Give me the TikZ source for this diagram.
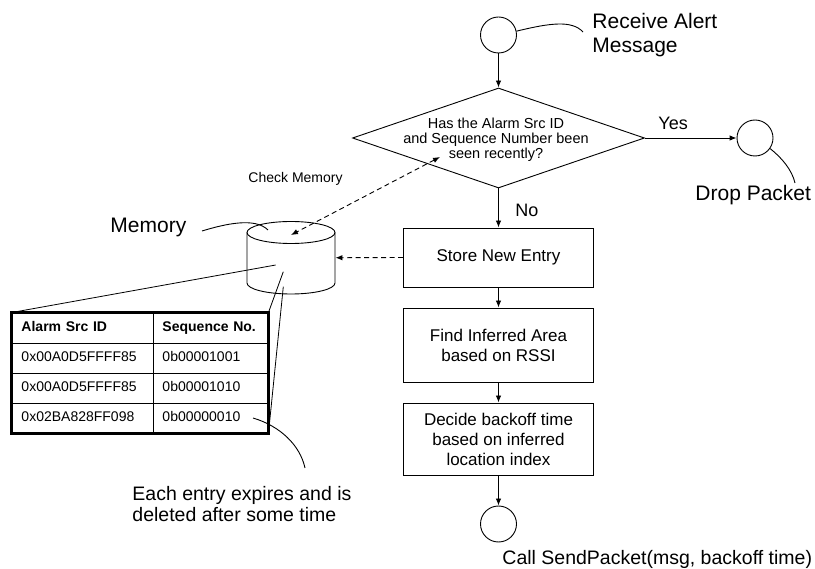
\documentclass[tikz,border=0pt]{standalone}
\usepackage{fontspec}
\setmainfont{Liberation Sans}
\usetikzlibrary{shapes.geometric,arrows.meta,matrix}

\begin{document}
\begin{tikzpicture}[x=1pt,y=-1pt,
  line width=0.9pt,
  flow/.style={-{Latex[length=7pt,width=5.5pt]}},
  dashpat/.style={dash pattern=on 5pt off 3.5pt},
  terminal/.style={circle, draw, minimum size=36pt, inner sep=0pt},
  procbox/.style={rectangle, draw, minimum width=190pt, align=center,
    font=\fontsize{17}{20}\selectfont, inner sep=0pt},
  biglabel/.style={font=\fontsize{21}{24}\selectfont, inner sep=0pt, align=left},
  midlabel/.style={font=\fontsize{19.5}{21}\selectfont, inner sep=0pt, align=left},
  branchlabel/.style={font=\fontsize{18}{20}\selectfont, inner sep=0pt},
  smalllabel/.style={font=\fontsize{14}{15}\selectfont, inner sep=0pt},
  leader/.style={line width=0.8pt}
]
\useasboundingbox (0,0) rectangle (815,569);

% ---------- main flow ----------
\node[terminal] (start) at (498.5,35) {};
\node[diamond, draw, minimum width=292pt, minimum height=100pt, inner sep=0pt]
  (dec) at (498.5,138) {};
\node[font=\fontsize{14.5}{15}\selectfont, align=center, inner sep=0pt, anchor=north]
  (dectext) at (496,117.5) {Has the Alarm Src ID\\and Sequence Number been\\seen recently?};
\node[terminal] (drop) at (755,138) {};
\node[procbox, minimum height=59pt] (store) at (498.5,257.5) {Store New Entry};
\node[procbox, minimum height=74pt] (find) at (498.5,345) {Find Inferred Area\\based on RSSI};
\node[procbox, minimum height=72pt] (decide) at (498.5,439)
  {Decide backoff time\\based on inferred\\location index};
\node[terminal] (send) at (498.5,524) {};

\draw[flow] (start) -- (dec.north);
\draw[flow] (dec.east) -- (drop.west);
\draw[flow] (dec.south) -- (store.north);
\draw[flow] (store) -- (find);
\draw[flow] (find) -- (decide);
\draw[flow] (decide) -- (send);

\node[branchlabel, anchor=base west] (yes) at (658,130) {Yes};
\node[branchlabel, anchor=base west] (no) at (515,217) {No};

% ---------- terminal captions ----------
\node[biglabel, anchor=north west] (recvlbl) at (592,13) {Receive Alert\\Message};
\coordinate (recvtip) at (583,32);
\draw (start.12) .. controls (550,23) and (572,20) .. (recvtip);

\node[biglabel, anchor=base west] (droplbl) at (695,201) {Drop Packet};
\coordinate (droptip) at (795,183);
\draw (drop.-35) .. controls (782,158) and (792,170) .. (droptip);

\node[midlabel, anchor=base west] (sendlbl) at (502,565) {Call SendPacket(msg, backoff time)};

% ---------- memory store ----------
\node[minimum width=88pt, minimum height=72.5pt, inner sep=0pt] (mem) at (291,257.75) {};
\draw[fill=white] (247,232.5) -- (247,283)
  arc[start angle=180, end angle=360, x radius=44pt, y radius=11pt] -- (335,232.5);
\draw (291,232.5) ellipse [x radius=44pt, y radius=11pt];

\node[biglabel, anchor=base west] (memlbl) at (110,233) {Memory};
\coordinate (memtail) at (202,231);
\coordinate (memtip) at (268,230);
\draw (memtail) .. controls (225,224) and (255,217) .. (memtip);

\coordinate (chkA) at (440,157);
\coordinate (chkB) at (291,235);
\draw[{Latex[length=7pt,width=5.5pt]}-{Latex[length=7pt,width=5.5pt]}, dashpat] (chkA) -- (chkB);
\node[smalllabel, anchor=base west] (chklbl) at (248,183) {Check Memory};

\draw[flow, dashpat] (store.west) -- (mem.east);

% ---------- memory contents table ----------
\matrix (tbl) [matrix of nodes, anchor=center, inner sep=0pt,
  column sep=0pt, row sep=0pt,
  nodes={font=\fontsize{14}{16}\selectfont, inner xsep=9.5pt, inner ysep=0pt,
    minimum height=30pt, text height=10.5pt, text depth=3pt, align=left},
  column 1/.style={nodes={text width=122pt}},
  column 2/.style={nodes={text width=96pt}}] at (140,373) {
  \bfseries Alarm Src ID & \bfseries Sequence No. \\
  0x00A0D5FFFF85 & 0b00001001 \\
  0x00A0D5FFFF85 & 0b00001010 \\
  0x02BA828FF098 & 0b00000010 \\
};
\foreach \r in {1,2,3}
  \draw (tbl-\r-1.south west) -- (tbl-\r-2.south east);
\draw (tbl-1-1.north east) -- (tbl-4-1.south east);
\draw[line width=3pt] (tbl.north west) rectangle (tbl.south east);

\coordinate (zoomA) at (275.7,265);
\coordinate (zoomB) at (283.3,271.7);
\coordinate (zoomC) at (283.3,286.7);
\draw[leader] (zoomA) -- (tbl.north west);
\draw[leader] (zoomB) -- (tbl.north east);
\draw[leader] (zoomC) -- (tbl.south east);

\coordinate (expA) at (253,418);
\coordinate (expB) at (305,468);
\draw (expA) .. controls (280,426) and (300,445) .. (expB);
\node[midlabel, anchor=north west] (explbl) at (132,486)
  {Each entry expires and is\\deleted after some time};
\end{tikzpicture}
\end{document}
